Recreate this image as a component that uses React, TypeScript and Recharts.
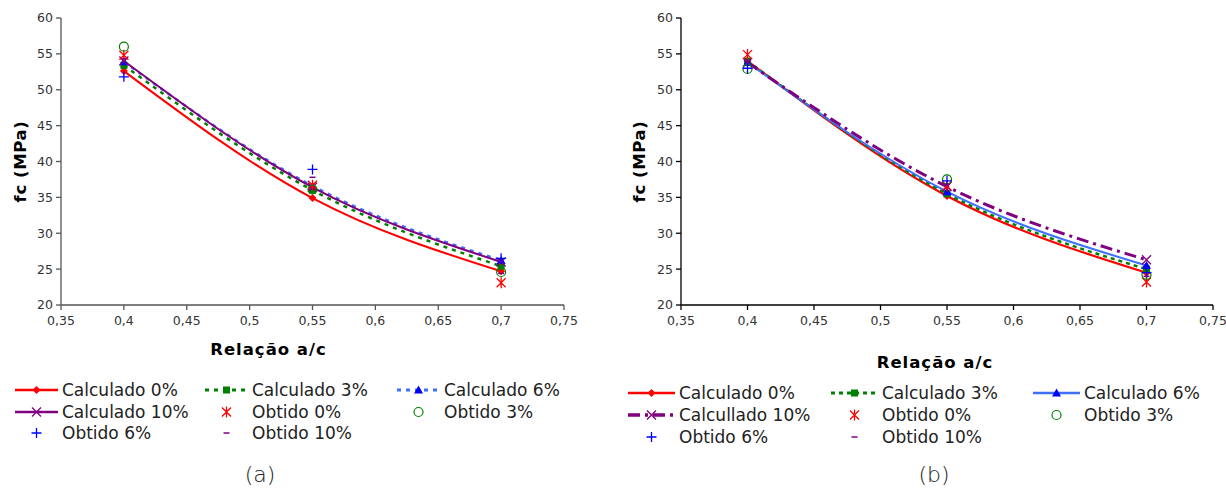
import React from "react";
import { ComposedChart, Line, XAxis, YAxis, Label } from "recharts";

const ratios = [0.4, 0.55, 0.7];
const xTicks = [0.35, 0.4, 0.45, 0.5, 0.55, 0.6, 0.65, 0.7, 0.75];
const yTicks = [20, 25, 30, 35, 40, 45, 50, 55, 60];

// (a)
const calc0A = [52.6, 34.9, 24.7];
const calc3A = [53.4, 36.0, 25.4];
const calc6A = [53.9, 36.6, 26.2];
const calc10A = [54.0, 36.4, 26.0];
const obt0A = [54.8, 36.7, 23.1];
const obt3A = [56.0, 36.1, 24.6];
const obt6A = [51.8, 38.9, 26.5];
const obt10A = [54.3, 37.8, 24.4];

// (b)
const calc0B = [54.0, 35.2, 24.5];
const calc3B = [54.0, 35.5, 25.0];
const calc6B = [53.8, 35.8, 25.5];
const calc10B = [53.8, 36.5, 26.3];
const obt0B = [54.9, 36.6, 23.2];
const obt3B = [52.9, 37.5, 24.2];
const obt6B = [53.0, 37.3, 24.5];
const obt10B = [54.0, 36.8, 24.0];

const labelsA = ["Calculado 0%", "Calculado 3%", "Calculado 6%", "Calculado 10%", "Obtido 0%", "Obtido 3%", "Obtido 6%", "Obtido 10%"];
const labelsB = ["Calculado 0%", "Calculado 3%", "Calculado 6%", "Calcullado 10%", "Obtido 0%", "Obtido 3%", "Obtido 6%", "Obtido 10%"];

const FONT = '"DejaVu Sans", sans-serif';
const RED = "#ff0000";
const GREEN = "#008000";
const LBLUE = "#3f6fff";
const BLUE = "#0000ff";
const PURPLE = "#800080";

type Mark = (x: number, y: number) => React.ReactElement;

const diamond = (c: string): Mark => (x, y) => (
  <path d={`M${x},${y - 4}L${x + 4},${y}L${x},${y + 4}L${x - 4},${y}Z`} fill={c} />
);
const square = (c: string): Mark => (x, y) => <rect x={x - 3.5} y={y - 3.5} width={7} height={7} fill={c} />;
const triangle = (c: string): Mark => (x, y) => (
  <path d={`M${x},${y - 4.5}L${x + 4.5},${y + 3.5}L${x - 4.5},${y + 3.5}Z`} fill={c} />
);
const cross = (c: string): Mark => (x, y) => (
  <path d={`M${x - 4.5},${y - 4.5}L${x + 4.5},${y + 4.5}M${x + 4.5},${y - 4.5}L${x - 4.5},${y + 4.5}`} stroke={c} strokeWidth={1.3} />
);
const asterisk = (c: string): Mark => (x, y) => (
  <path
    d={`M${x - 4.5},${y - 4.5}L${x + 4.5},${y + 4.5}M${x + 4.5},${y - 4.5}L${x - 4.5},${y + 4.5}M${x},${y - 5.5}L${x},${y + 5.5}`}
    stroke={c}
    strokeWidth={1.3}
  />
);
const ring = (c: string): Mark => (x, y) => <circle cx={x} cy={y} r={4.5} fill="none" stroke={c} strokeWidth={1.2} />;
const plus = (c: string): Mark => (x, y) => (
  <path d={`M${x - 5},${y}L${x + 5},${y}M${x},${y - 5}L${x},${y + 5}`} stroke={c} strokeWidth={1.3} />
);
const dash = (c: string): Mark => (x, y) => <path d={`M${x - 3},${y}L${x + 3},${y}`} stroke={c} strokeWidth={1.5} />;

type Series = {
  key: string;
  color?: string;
  width?: number;
  dasharray?: string;
  mark: Mark;
};

const seriesA: Series[] = [
  { key: "c0", color: RED, width: 2, mark: diamond(RED) },
  { key: "c3", color: GREEN, width: 2.5, dasharray: "4 5", mark: square(GREEN) },
  { key: "c6", color: LBLUE, width: 2.5, dasharray: "4 5", mark: triangle(BLUE) },
  { key: "c10", color: PURPLE, width: 2, mark: cross(PURPLE) },
  { key: "o0", mark: asterisk(RED) },
  { key: "o3", mark: ring(GREEN) },
  { key: "o6", mark: plus(BLUE) },
  { key: "o10", mark: dash(PURPLE) },
];

const seriesB: Series[] = [
  { key: "c0", color: RED, width: 2.2, mark: diamond(RED) },
  { key: "c3", color: GREEN, width: 2.5, dasharray: "4 4", mark: square(GREEN) },
  { key: "c6", color: LBLUE, width: 2, mark: triangle(BLUE) },
  { key: "c10", color: PURPLE, width: 3, dasharray: "12 5 3 5", mark: cross(PURPLE) },
  { key: "o0", mark: asterisk(RED) },
  { key: "o3", mark: ring(GREEN) },
  { key: "o6", mark: plus(BLUE) },
  { key: "o10", mark: dash(PURPLE) },
];

const buildRows = (c0: number[], c3: number[], c6: number[], c10: number[], o0: number[], o3: number[], o6: number[], o10: number[]) =>
  ratios.map((x, i) => ({ x, c0: c0[i], c3: c3[i], c6: c6[i], c10: c10[i], o0: o0[i], o3: o3[i], o6: o6[i], o10: o10[i] }));

const dataA = buildRows(calc0A, calc3A, calc6A, calc10A, obt0A, obt3A, obt6A, obt10A);
const dataB = buildRows(calc0B, calc3B, calc6B, calc10B, obt0B, obt3B, obt6B, obt10B);

const fmt = (v: number) => String(v).replace(".", ",");

type PanelProps = {
  left: number;
  width: number;
  plotRight: number;
  data: any[];
  series: Series[];
  labels: string[];
  axisColor: string;
  xTitleDx: number;
  xTitleY: number;
  yTitleX: number;
  legendCols: number[];
  legendRows: number[];
  swatchW: number;
  caption: string;
  captionX: number;
};

function Swatch({ s, w }: { s: Series; w: number }) {
  return (
    <svg width={w} height={14} style={{ position: "absolute", left: 0, top: -7 }}>
      {s.color && (
        <line x1={0} y1={7} x2={w} y2={7} stroke={s.color} strokeWidth={s.width! + 0.5} strokeDasharray={s.dasharray} />
      )}
      {s.mark(w / 2, 7)}
    </svg>
  );
}

function Panel(p: PanelProps) {
  const yTitle = (props: any) => {
    const vb = props.viewBox;
    const cy = vb.y + vb.height / 2;
    return (
      <text
        x={p.yTitleX}
        y={cy}
        transform={`rotate(-90 ${p.yTitleX} ${cy})`}
        textAnchor="middle"
        dominantBaseline="central"
        fontFamily={FONT}
        fontWeight="bold"
        fontSize={16.5}
        letterSpacing={0.6}
        fill="#000"
      >
        fc (MPa)
      </text>
    );
  };
  const xTitle = (props: any) => {
    const vb = props.viewBox;
    return (
      <text
        x={vb.x + vb.width / 2 + p.xTitleDx}
        y={p.xTitleY}
        textAnchor="middle"
        dominantBaseline="central"
        fontFamily={FONT}
        fontWeight="bold"
        fontSize={16.5}
        letterSpacing={1}
        fill="#000"
      >
        Relação a/c
      </text>
    );
  };

  return (
    <div style={{ position: "absolute", left: p.left, top: 0, width: p.width, height: 488 }}>
      <ComposedChart
        width={p.width}
        height={380}
        data={p.data}
        margin={{ top: 18, right: p.width - p.plotRight, left: 11, bottom: 15 }}
      >
        <XAxis
          dataKey="x"
          type="number"
          domain={[0.35, 0.75]}
          ticks={xTicks}
          tickFormatter={fmt}
          height={60}
          stroke={p.axisColor}
          strokeWidth={1.3}
          tickSize={5}
          tickMargin={6}
          tick={{ fontSize: 12.5, fontFamily: FONT, fill: "#333" }}
        >
          <Label content={xTitle} />
        </XAxis>
        <YAxis
          type="number"
          domain={[20, 60]}
          ticks={yTicks}
          width={50}
          stroke={p.axisColor}
          strokeWidth={1.3}
          tickSize={5}
          tickMargin={3}
          tick={{ fontSize: 12.5, fontFamily: FONT, fill: "#333" }}
        >
          <Label content={yTitle} />
        </YAxis>
        {p.series.map((s) => (
          <Line
            key={s.key}
            dataKey={s.key}
            type="monotone"
            stroke={s.color ?? "none"}
            strokeWidth={s.width ?? 0}
            strokeDasharray={s.dasharray}
            dot={(d: any) => <g key={`${s.key}-${d.index}`}>{s.mark(d.cx, d.cy)}</g>}
            activeDot={false}
            isAnimationActive={false}
          />
        ))}
      </ComposedChart>
      {p.series.map((s, i) => {
        const col = i % 3;
        const row = Math.floor(i / 3);
        return (
          <div
            key={s.key}
            style={{ position: "absolute", left: p.legendCols[col] - p.left, top: p.legendRows[row], height: 0 }}
          >
            <Swatch s={s} w={p.swatchW} />
            <span
              style={{
                position: "absolute",
                left: p.swatchW + 4,
                top: -11,
                whiteSpace: "nowrap",
                fontFamily: FONT,
                fontSize: 17,
                lineHeight: "22px",
                color: "#222",
              }}
            >
              {p.labels[i]}
            </span>
          </div>
        );
      })}
      <div
        style={{
          position: "absolute",
          left: p.captionX - p.left - 40,
          width: 80,
          top: 463,
          textAlign: "center",
          fontFamily: FONT,
          fontWeight: 300,
          fontSize: 22,
          lineHeight: "24px",
          color: "#222",
        }}
      >
        {p.caption}
      </div>
    </div>
  );
}

export default function App() {
  return (
    <div style={{ position: "absolute", left: 0, top: 0, width: 1226, height: 488, background: "#fff", overflow: "hidden" }}>
      <Panel
        left={0}
        width={600}
        plotRight={564}
        data={dataA}
        series={seriesA}
        labels={labelsA}
        axisColor="#555"
        xTitleDx={-44}
        xTitleY={349}
        yTitleX={20}
        legendCols={[15, 205, 397]}
        legendRows={[390, 412, 433]}
        swatchW={43}
        caption="(a)"
        captionX={260}
      />
      <Panel
        left={620}
        width={606}
        plotRight={593}
        data={dataB}
        series={seriesB}
        labels={labelsB}
        axisColor="#000"
        xTitleDx={-12}
        xTitleY={362}
        yTitleX={19}
        legendCols={[628, 831, 1033]}
        legendRows={[393, 415, 437]}
        swatchW={47}
        caption="(b)"
        captionX={934}
      />
    </div>
  );
}
